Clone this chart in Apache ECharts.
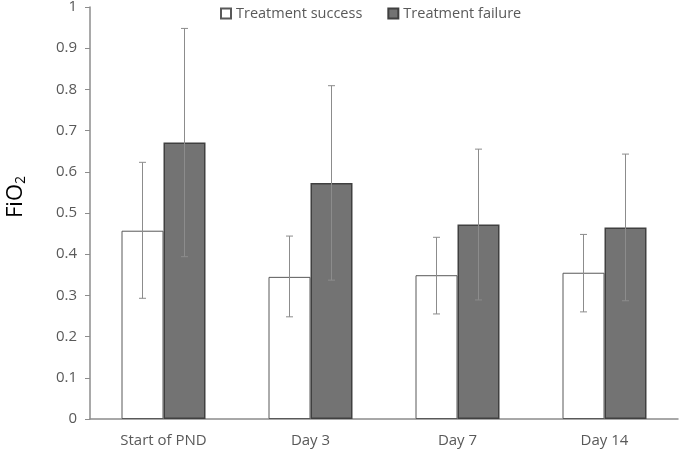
<!DOCTYPE html>
<html>
<head>
<meta charset="utf-8">
<script src="https://cdn.jsdelivr.net/npm/echarts@6/dist/echarts.min.js"></script>
<style>html,body{margin:0;padding:0;background:#fff}#c{width:685px;height:450px}</style>
</head>
<body>
<div id="c"></div>
<script>
const categories = ['Start of PND', 'Day 3', 'Day 7', 'Day 14'];
const successMean = [0.457, 0.345, 0.349, 0.355];
const successLow  = [0.293, 0.248, 0.255, 0.260];
const successHigh = [0.623, 0.444, 0.441, 0.448];
const failureMean = [0.671, 0.573, 0.472, 0.465];
const failureLow  = [0.394, 0.337, 0.289, 0.287];
const failureHigh = [0.948, 0.809, 0.655, 0.643];
const yTicks = [0, 0.1, 0.2, 0.3, 0.4, 0.5, 0.6, 0.7, 0.8, 0.9, 1];

const FONT = 'Open Sans';
const BAR_W = 42;

function errData(low, high) {
  return categories.map((c, i) => [i, low[i], high[i]]);
}
function errSeries(low, high, offset) {
  return {
    type: 'custom',
    z: 10,
    silent: true,
    data: errData(low, high),
    renderItem: function (params, api) {
      const i = api.value(0);
      const lo = api.coord([i, api.value(1)]);
      const hi = api.coord([i, api.value(2)]);
      const x = lo[0] + offset;
      const cap = 3.5;
      const style = { stroke: '#8c8c8c', lineWidth: 1 };
      return {
        type: 'group',
        children: [
          { type: 'line', shape: { x1: x, y1: hi[1], x2: x, y2: lo[1] }, style },
          { type: 'line', shape: { x1: x - cap, y1: hi[1], x2: x + cap, y2: hi[1] }, style },
          { type: 'line', shape: { x1: x - cap, y1: lo[1], x2: x + cap, y2: lo[1] }, style }
        ]
      };
    }
  };
}

const chart = echarts.init(document.getElementById('c'));
chart.setOption({
  animation: false,
  textStyle: { fontFamily: FONT },
  legend: {
    top: 1,
    left: 215,
    itemWidth: 10,
    itemHeight: 10,
    itemGap: 25,
    icon: 'rect',
    textStyle: { fontFamily: FONT, fontSize: 14.5, color: '#595959' },
    data: ['Treatment success', 'Treatment failure']
  },
  grid: { left: 90, right: 7, top: 7, bottom: 31, containLabel: false, outerBoundsMode: 'none' },
  xAxis: {
    type: 'category',
    data: categories,
    axisLine: { lineStyle: { color: '#8c8c8c', width: 1.5 } },
    axisTick: { show: false },
    axisLabel: { fontFamily: FONT, fontSize: 15, color: '#595959', margin: 14 }
  },
  yAxis: {
    type: 'value',
    min: yTicks[0],
    max: yTicks[yTicks.length - 1],
    interval: 0.1,
    splitLine: { show: false },
    axisLine: { show: true, lineStyle: { color: '#8c8c8c', width: 1.5 } },
    axisTick: { show: true, length: 5, lineStyle: { color: '#8c8c8c' } },
    axisLabel: { fontFamily: FONT, fontSize: 15, color: '#595959', margin: 13 },
    name: '{a|FiO}{b|2}',
    nameLocation: 'middle',
    nameRotate: 90,
    nameGap: 62,
    nameTextStyle: {
      padding: [0, 0, 0, 32],
      rich: {
        a: { fontFamily: FONT, fontSize: 22, color: '#000' },
        b: { fontFamily: FONT, fontSize: 14, color: '#000', padding: [10, 0, 0, 0] }
      }
    }
  },
  series: [
    {
      name: 'Treatment success',
      type: 'bar',
      data: successMean,
      barWidth: BAR_W,
      barGap: '0%',
      itemStyle: { color: '#ffffff', borderColor: '#595959', borderWidth: 1 }
    },
    {
      name: 'Treatment failure',
      type: 'bar',
      data: failureMean,
      barWidth: BAR_W,
      barGap: '0%',
      itemStyle: { color: '#737373', borderColor: '#404040', borderWidth: 1.5 }
    },
    errSeries(successLow, successHigh, -BAR_W / 2),
    errSeries(failureLow, failureHigh, BAR_W / 2)
  ]
});
</script>
</body>
</html>
